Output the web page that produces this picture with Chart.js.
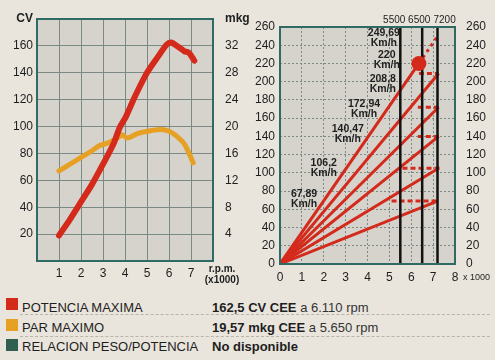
<!DOCTYPE html>
<html><head><meta charset="utf-8">
<script src="https://cdn.jsdelivr.net/npm/chart.js@4/dist/chart.umd.min.js"></script>
<style>
html,body{margin:0;padding:0}
body{background:#e9e5dd;width:495px;height:360px;overflow:hidden;position:relative;font-family:"Liberation Sans",Arial,sans-serif;color:#1e1e1e}
canvas{position:absolute;top:0}
#c1{left:0}
#c2{left:245px}
.sq{position:absolute;left:6px;width:12px;height:12px}
.t{position:absolute;font-size:13px;line-height:15px;white-space:nowrap}
.sep{position:absolute;left:20px;width:470px;height:0;border-top:1px dashed #b9b4aa}
b{font-weight:bold}
.sm{font-family:"Liberation Sans Narrow","Liberation Sans",Arial,sans-serif;font-size:13px;color:#333}
</style></head><body>
<canvas id="c1" width="256" height="292"></canvas>
<canvas id="c2" width="250" height="292"></canvas>

<div class="sq" style="top:298px;background:#d42a1c"></div>
<div class="t" style="left:22px;top:300px">POTENCIA MAXIMA</div>
<div class="t" style="left:212px;top:300px"><b>162,5 CV CEE</b> <span class="sm">a 6.110 rpm</span></div>
<div class="sep" style="top:314px"></div>
<div class="sq" style="top:319px;background:#e6a024"></div>
<div class="t" style="left:22px;top:320px">PAR MAXIMO</div>
<div class="t" style="left:212px;top:320px"><b>19,57 mkg CEE</b> <span class="sm">a 5.650 rpm</span></div>
<div class="sep" style="top:336px"></div>
<div class="sq" style="top:339px;background:#2f5f50"></div>
<div class="t" style="left:22px;top:339px">RELACION PESO/POTENCIA</div>
<div class="t" style="left:212px;top:339px"><b>No disponible</b></div>

<script>
// ---------- Data: left chart ----------
const rpmPower  = [1, 1.5, 2, 2.5, 3, 3.5, 3.75, 4, 4.25, 4.5, 5, 5.5, 5.9, 6.1, 6.4, 6.7, 6.9, 7.15];
const powerCV   = [19, 31, 44, 57, 72, 88, 99, 106, 115, 124, 140, 152, 161, 162.5, 159.5, 156, 155, 149];
const rpmTorque = [1, 1.5, 2, 2.5, 2.8, 3.25, 3.7, 3.85, 4.1, 4.6, 5.2, 5.65, 6.0, 6.3, 6.7, 7.1];
const torqueMkg = [13.4, 14.4, 15.4, 16.4, 17.1, 17.6, 18.4, 18.8, 18.3, 19.0, 19.4, 19.57, 19.3, 18.7, 17.4, 14.6];
const cvTicks   = [20, 40, 60, 80, 100, 120, 140, 160];
const mkgTicks  = [4, 8, 12, 16, 20, 24, 28, 32];
const rpmTicks  = [1, 2, 3, 4, 5, 6, 7];

// ---------- Data: right chart ----------
const gearEndRpm = [7.2, 7.25, 7.25, 7.25, 7.25, 6.35];
const gearEndKmh = [69, 105, 140, 172, 209, 220];
const dashKmh      = [69, 105, 140, 172, 209];
const dashStartRpm = [5.1, 5.6, 6.3, 6.3, 6.35];
const dashEndRpm   = [7.2, 7.3, 7.25, 7.25, 7.25];
const topRpm = [6.35, 7.2];
const topKmh = [220, 249.69];
const markerRpm    = [5.5, 6.5, 7.2];
const markerLabels = ['5500', '6500', '7200'];
const speedLabels  = ['67,89', '106,2', '140,47', '172,94', '208,8', '220', '249,69'];
const speedLabelRpm = [1.1, 2.0, 3.1, 3.84, 4.7, 4.88, 4.75];
const speedLabelKmh = [71, 105, 143, 170, 197, 224, 248];

const RED = '#d42a1c', ORANGE = '#e6a024', TEAL = '#2f6b62', GRID = '#7c8a85', PLOTBG = '#d6d3cc';
const FONT = '"Liberation Sans", Arial, sans-serif';
const NARROW = '"Liberation Sans Narrow", "Liberation Sans", Arial, sans-serif';

const pts = (xs, ys) => xs.map((x, i) => ({x, y: ys[i]}));

const bgPlugin = {
  id: 'bg',
  beforeDraw(chart) {
    const {ctx, chartArea: a} = chart;
    ctx.save(); ctx.fillStyle = PLOTBG;
    ctx.fillRect(a.left, a.top, a.right - a.left, a.bottom - a.top);
    ctx.restore();
  },
  afterDatasetsDraw(chart) {
    const {ctx, chartArea: a} = chart;
    ctx.save(); ctx.strokeStyle = TEAL; ctx.lineWidth = 2;
    ctx.strokeRect(a.left, a.top, a.right - a.left, a.bottom - a.top);
    ctx.restore();
  }
};

// ---------- Left chart ----------
const leftText = {
  id: 'leftText',
  afterDraw(chart) {
    const {ctx} = chart; const x = chart.scales.x;
    ctx.save(); ctx.fillStyle = '#1e1e1e'; ctx.textAlign = 'center'; ctx.textBaseline = 'middle';
    ctx.font = 'bold 10px ' + NARROW;
    const px = x.getPixelForValue(8) + 9;
    ctx.fillText('r.p.m.', px, 269);
    ctx.fillText('(x1000)', px, 280);
    ctx.restore();
  }
};

new Chart(document.getElementById('c1'), {
  type: 'line',
  data: {datasets: [
    {data: pts(rpmPower, powerCV), borderColor: RED, borderWidth: 6, pointRadius: 0, tension: 0.3, yAxisID: 'y', borderCapStyle: 'round', borderJoinStyle: 'round'},
    {data: pts(rpmTorque, torqueMkg), borderColor: ORANGE, borderWidth: 5, pointRadius: 0, tension: 0.3, yAxisID: 'y2', borderCapStyle: 'round', borderJoinStyle: 'round'}
  ]},
  options: {
    responsive: false, animation: false, events: [],
    layout: {padding: {top: 19, left: 0, right: 0, bottom: 0}},
    plugins: {legend: {display: false}, tooltip: {enabled: false}},
    scales: {
      x: {type: 'linear', min: 0, max: 8,
        afterBuildTicks: s => { s.ticks = [0, ...rpmTicks, 8].map(v => ({value: v})); },
        afterFit: s => { s.height = 31; },
        ticks: {callback: v => rpmTicks.includes(v) ? String(v) : '', color: '#1e1e1e', font: {family: FONT, size: 12}, padding: 5, maxRotation: 0, autoSkip: false},
        grid: {color: GRID, lineWidth: 1, drawTicks: false}, border: {display: false}},
      y: {type: 'linear', position: 'left', min: 0, max: 180,
        afterBuildTicks: s => { s.ticks = [0, ...cvTicks, 180].map(v => ({value: v})); },
        afterFit: s => { s.width = 37; },
        ticks: {callback: v => v === 180 ? 'CV' : (cvTicks.includes(v) ? String(v) : ''), color: '#1e1e1e',
          font: c => ({family: c.tick && c.tick.value === 180 ? NARROW : FONT, size: 12, weight: c.tick && c.tick.value === 180 ? 'bold' : 'normal'}),
          padding: 4, autoSkip: false},
        grid: {color: GRID, lineWidth: 1, drawTicks: false}, border: {display: false}},
      y2: {type: 'linear', position: 'right', min: 0, max: 36,
        afterBuildTicks: s => { s.ticks = [0, ...mkgTicks, 36].map(v => ({value: v})); },
        afterFit: s => { s.width = 43; },
        ticks: {callback: v => v === 36 ? 'mkg' : (mkgTicks.includes(v) ? String(v) : ''), color: '#1e1e1e',
          font: c => ({family: c.tick && c.tick.value === 36 ? NARROW : FONT, size: 12, weight: c.tick && c.tick.value === 36 ? 'bold' : 'normal'}),
          padding: 4, autoSkip: false},
        grid: {display: false}, border: {display: false}}
    }
  },
  plugins: [bgPlugin, leftText]
});

// ---------- Right chart ----------
const rightText = {
  id: 'rightText',
  afterDraw(chart) {
    const {ctx} = chart; const x = chart.scales.x, y = chart.scales.y;
    ctx.save(); ctx.fillStyle = '#1e1e1e'; ctx.textBaseline = 'middle';
    ctx.font = '10px ' + FONT;
    const aligns = ['right', 'center', 'left'];
    const shifts = [5, -3, -4];
    markerRpm.forEach((r, i) => {
      ctx.textAlign = aligns[i];
      ctx.fillText(markerLabels[i], x.getPixelForValue(r) + shifts[i], 20);
    });
    ctx.textAlign = 'center'; ctx.font = 'bold 10.5px ' + NARROW;
    speedLabels.forEach((s, i) => {
      const px = x.getPixelForValue(speedLabelRpm[i]), py = y.getPixelForValue(speedLabelKmh[i]);
      ctx.fillText(s, px, py - 5);
      ctx.fillText('Km/h', px, py + 5);
    });
    ctx.textAlign = 'left'; ctx.font = '9px ' + FONT;
    ctx.fillText('x 1000', x.getPixelForValue(8) + 8, 278);
    ctx.fillStyle = RED; ctx.beginPath();
    ctx.arc(x.getPixelForValue(topRpm[0]), y.getPixelForValue(topKmh[0]), 7.5, 0, Math.PI * 2); ctx.fill();
    ctx.restore();
  }
};

const rDatasets = [];
markerRpm.forEach(r => rDatasets.push({data: [{x: r, y: 0}, {x: r, y: 260}], borderColor: '#111', borderWidth: 2.5, pointRadius: 0, order: 1}));
gearEndRpm.forEach((r, i) => rDatasets.push({data: [{x: 0, y: 0}, {x: r, y: gearEndKmh[i]}], borderColor: RED, borderWidth: 3, pointRadius: 0, order: 3}));
dashKmh.forEach((v, i) => rDatasets.push({data: [{x: dashStartRpm[i], y: v}, {x: dashEndRpm[i], y: v}], borderColor: RED, borderWidth: 3, borderDash: [5, 3], pointRadius: 0, order: 2}));
rDatasets.push({data: pts(topRpm, topKmh), borderColor: RED, borderWidth: 3, borderDash: [3, 4], pointRadius: 0, order: 2});

new Chart(document.getElementById('c2'), {
  type: 'line',
  data: {datasets: rDatasets},
  options: {
    responsive: false, animation: false, events: [],
    layout: {padding: {top: 27, left: 0, right: 0, bottom: 0}},
    plugins: {legend: {display: false}, tooltip: {enabled: false}},
    scales: {
      x: {type: 'linear', min: 0, max: 8,
        afterFit: s => { s.height = 28; },
        ticks: {stepSize: 1, color: '#1e1e1e', font: {family: FONT, size: 12}, padding: 6, maxRotation: 0, autoSkip: false},
        grid: {color: GRID, lineWidth: 1, drawTicks: false}, border: {display: false, dash: [2, 2]}},
      y: {type: 'linear', position: 'left', min: 0, max: 260,
        afterFit: s => { s.width = 35; },
        ticks: {stepSize: 20, color: '#1e1e1e', font: {family: FONT, size: 12}, padding: 5, autoSkip: false},
        grid: {color: GRID, lineWidth: 1, drawTicks: false}, border: {display: false, dash: [2, 2]}},
      y2: {type: 'linear', position: 'right', min: 0, max: 260,
        afterFit: s => { s.width = 40; },
        ticks: {stepSize: 20, color: '#1e1e1e', font: {family: FONT, size: 12}, padding: 3, autoSkip: false},
        grid: {display: false}, border: {display: false}}
    }
  },
  plugins: [bgPlugin, rightText]
});
</script>
</body></html>
